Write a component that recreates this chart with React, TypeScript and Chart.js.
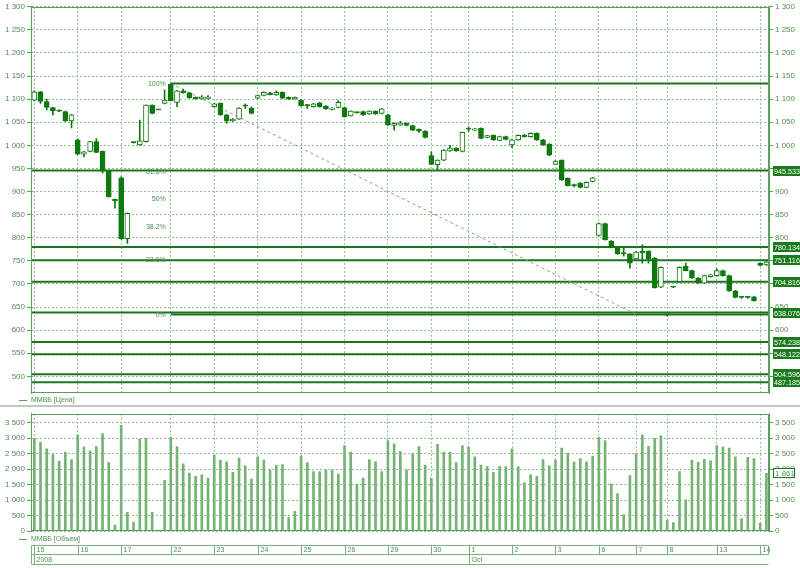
import React, { useEffect, useRef } from 'react';
import { Chart, registerables } from 'chart.js';

Chart.register(...registerables);

// ---------------- data ----------------
const dayLabels = ['15', '16', '17', '22', '23', '24', '25', '26', '29', '30', '1', '2', '3', '6', '7', '8', '13', '14'];
const dayStarts = [0, 7, 14, 22, 29, 36, 43, 50, 57, 64, 70, 77, 84, 91, 97, 102, 110, 117];
const monthLabels = ['2008', 'Oct'];
const monthStarts = [0, 70];

const opens = [
  1098, 1116, 1095, 1082, 1076, 1073, 1053,
  1012, 981, 987, 1008, 987, 945, 883,
  930, 798, 1006, 1001, 1008, 1087, 1077, 1091,
  1132, 1093, 1118, 1114, 1104, 1101, 1101,
  1084, 1091, 1066, 1053, 1057, 1085, 1081,
  1102, 1108, 1114, 1109, 1115, 1104, 1101,
  1098, 1088, 1084, 1092, 1085, 1078, 1082,
  1082, 1064, 1071, 1073, 1068, 1074, 1069,
  1066, 1043, 1044, 1048, 1043, 1035, 1031,
  978, 958, 968, 988, 994, 987,
  1035, 1033, 1037, 1017, 1022, 1011, 1019,
  1001, 1012, 1022, 1019, 1026, 1012, 1003,
  959, 968, 929, 913, 918, 909, 922,
  805, 831, 793, 779, 768, 765,
  754, 771, 771, 756, 693,
  633, 693, 705, 738, 729, 713, 702, 716,
  718, 729, 718, 685, 671, 671, 672,
  745, 741,
];
const highs = [
  1118, 1117, 1100, 1083, 1077, 1074, 1067,
  1014, 987, 1009, 1015, 988, 946, 884,
  932, 854, 1008, 1055, 1088, 1088, 1077, 1120,
  1135, 1119, 1122, 1115, 1105, 1108, 1108,
  1091, 1092, 1067, 1058, 1082, 1090, 1083,
  1109, 1116, 1115, 1118, 1116, 1105, 1105,
  1099, 1089, 1091, 1093, 1086, 1082, 1097,
  1083, 1075, 1072, 1074, 1075, 1075, 1080,
  1067, 1049, 1052, 1049, 1044, 1036, 1032,
  986, 969, 991, 1000, 995, 1029,
  1040, 1037, 1038, 1022, 1023, 1020, 1020,
  1013, 1023, 1024, 1027, 1027, 1013, 1004,
  967, 969, 930, 916, 920, 921, 931,
  832, 832, 794, 780, 778, 766,
  770, 785, 772, 757, 737,
  635, 694, 737, 745, 730, 714, 719, 721,
  733, 730, 719, 686, 673, 673, 673,
  746, 752,
];
const lows = [
  1096, 1091, 1077, 1066, 1073, 1052, 1038,
  980, 975, 986, 984, 940, 888, 864,
  797, 788, 1005, 1000, 1007, 1068, 1077, 1090,
  1096, 1084, 1113, 1102, 1100, 1100, 1100,
  1083, 1065, 1048, 1052, 1056, 1080, 1068,
  1101, 1107, 1109, 1108, 1101, 1099, 1100,
  1085, 1080, 1083, 1083, 1078, 1077, 1081,
  1061, 1063, 1070, 1065, 1067, 1067, 1068,
  1043, 1033, 1043, 1042, 1032, 1028, 1016,
  958, 947, 967, 987, 987, 986,
  1030, 1032, 1014, 1016, 1011, 1010, 1012,
  995, 1011, 1018, 1018, 1011, 1000, 978,
  958, 924, 912, 910, 908, 908, 921,
  804, 795, 778, 764, 760, 734,
  753, 745, 745, 691, 692,
  631, 692, 704, 728, 712, 701, 701, 715,
  717, 717, 684, 670, 669, 669, 663,
  739, 740,
];
const closes = [
  1116, 1095, 1082, 1075, 1074, 1053, 1066,
  981, 986, 1008, 985, 945, 889, 880,
  798, 853, 1007, 1010, 1087, 1069, 1077, 1098,
  1097, 1118, 1114, 1103, 1101, 1105, 1105,
  1090, 1066, 1053, 1057, 1081, 1086, 1069,
  1108, 1115, 1110, 1115, 1102, 1100, 1104,
  1086, 1086, 1090, 1084, 1079, 1081, 1093,
  1062, 1074, 1071, 1066, 1074, 1068, 1079,
  1044, 1048, 1049, 1043, 1033, 1031, 1017,
  959, 968, 990, 994, 988, 1028,
  1036, 1036, 1015, 1021, 1012, 1019, 1013,
  1012, 1022, 1019, 1026, 1012, 1001, 979,
  966, 925, 913, 914, 909, 920, 930,
  831, 796, 779, 765, 765, 745,
  769, 767, 754, 692, 736,
  634, 693, 736, 729, 713, 702, 718, 720,
  729, 718, 685, 671, 672, 672, 664,
  740, 748,
];
const volumes = [
  3000, 2870, 2660, 2470, 2260, 2550, 2310,
  3100, 2710, 2590, 2730, 3150, 2220, 190,
  3420, 600, 290, 2970, 3000, 600, null, 1640,
  3030, 2730, 2170, 1870, 1770, 1820, 1710,
  2450, 2290, 2240, 1900, 2360, 2110, 1680,
  2400, 2290, 1980, 2130, 2150, 430, 640,
  2420, 2210, 1920, 1920, 1980, 1980, 1840,
  2760, 2550, 1520, 1710, 2310, 2240, 1920,
  2920, 2820, 2570, 1980, 2500, 2730, 2130,
  1710, 2800, 2550, 2550, 2210, 2760,
  2710, 2400, 2130, 2080, 1900, 2080, 2080,
  2660, 2080, 1560, 1820, 1770, 2310, 2110,
  2290, 2680, 2520, 2240, 2340, 2240, 2420,
  3030, 2920, 1520, 1210, 530, 1790,
  2500, 3100, 2740, 3000, 3080,
  350, 270, 1920, 1010, 2290, 2220, 2320, 2270,
  2760, 2710, 2680, 2400, 400, 2380, 2340,
  260, 1861,
];

const priceTicks = [500, 550, 600, 650, 700, 750, 800, 850, 900, 950, 1000, 1050, 1100, 1150, 1200, 1250, 1300];
const volumeTicks = [0, 500, 1000, 1500, 2000, 2500, 3000, 3500];
const levelValues = [945.533, 780.134, 751.116, 704.816, 638.076, 574.238, 548.122, 504.596, 487.185];
const levelLabels = ['945.533', '780.134', '751.116', '704.816', '638.076', '574.238', '548.122', '504.596', '487.185'];
const fibRatios = [1, 0.618, 0.5, 0.382, 0.236, 0];
const fibLabels = ['100%', '61.8%', '50%', '38.2%', '23.6%', '0%'];
const fibAnchorX = [22, 97];
const fibAnchorY = [1134, 634];
const lastVolumeLabel = '1 861';
const priceLegend = 'ММВБ [Цена]';
const volumeLegend = 'ММВБ [Объем]';

// ---------------- ranges & styles ----------------
const PRICE_MIN = 464;
const PRICE_MAX = 1300;
const VOL_MIN = 0;
const VOL_MAX = 3790;
const X_MIN = -0.532;
const X_MAX = 118.42;

const FONT = "'Liberation Sans', Arial, sans-serif";
const candleColor = '#0f780f';
const levelColor = '#1c751c';
const gridColor = '#8fc08f';
const axisColor = '#5aa05a';
const textColor = '#4f8f4f';
const boxColor = '#1b7a1b';
const volColor = '#74b374';
const tableColor = '#7ab47a';

const fmt = (v: number) => String(v).replace(/\B(?=(\d{3})+(?!\d))/g, ' ');

const xScale = (showGrid: boolean) => ({
  type: 'linear',
  min: X_MIN,
  max: X_MAX,
  offset: false,
  afterBuildTicks: (a: any) => { a.ticks = dayStarts.map((v) => ({ value: v })); },
  afterFit: (a: any) => { a.height = 0; },
  ticks: { display: false },
  grid: { display: showGrid, color: gridColor, drawTicks: false, offset: false, lineWidth: 1 },
  border: { display: false, dash: [2, 2] },
});

const yScale = (pos: 'left' | 'right', min: number, max: number, ticks: number[]) => ({
  type: 'linear',
  position: pos,
  min,
  max,
  beginAtZero: false,
  afterBuildTicks: (a: any) => { a.ticks = ticks.map((v) => ({ value: v })); },
  afterFit: (a: any) => { a.width = 31; },
  ticks: {
    autoSkip: false,
    color: textColor,
    font: { family: FONT, size: 8 },
    padding: 2,
    callback: (v: any) => fmt(Number(v)),
  },
  grid: {
    color: gridColor,
    tickColor: axisColor,
    tickLength: 4,
    tickBorderDash: [],
    drawOnChartArea: pos === 'left',
  },
  border: { display: true, color: axisColor, width: 1, dash: [2, 2] },
});

const frame = (chart: any) => {
  const { ctx, chartArea } = chart;
  ctx.save();
  ctx.strokeStyle = axisColor;
  ctx.lineWidth = 1;
  ctx.setLineDash([]);
  ctx.strokeRect(Math.round(chartArea.left) + 0.5, Math.round(chartArea.top) + 0.5,
    Math.round(chartArea.right - chartArea.left) - 1, Math.round(chartArea.bottom - chartArea.top) - 1);
  ctx.restore();
};

const legendText = (ctx: any, text: string, y: number) => {
  ctx.save();
  ctx.strokeStyle = axisColor;
  ctx.lineWidth = 1;
  ctx.beginPath();
  ctx.moveTo(19, y + 0.5);
  ctx.lineTo(27, y + 0.5);
  ctx.stroke();
  ctx.fillStyle = textColor;
  ctx.font = `7px ${FONT}`;
  ctx.textAlign = 'left';
  ctx.textBaseline = 'middle';
  ctx.fillText(text, 31, y + 0.5);
  ctx.restore();
};

const priceOverlay = {
  id: 'priceOverlay',
  afterDraw(chart: any) {
    const { ctx, chartArea, scales } = chart;
    const y = scales.y;
    const x = scales.x;
    frame(chart);
    ctx.save();
    // fibonacci labels
    ctx.font = `7px ${FONT}`;
    ctx.fillStyle = textColor;
    ctx.textAlign = 'right';
    ctx.textBaseline = 'middle';
    const fx = x.getPixelForValue(fibAnchorX[0]) - 5;
    fibRatios.forEach((r, i) => {
      const v = fibAnchorY[1] + r * (fibAnchorY[0] - fibAnchorY[1]);
      ctx.fillText(fibLabels[i], fx, y.getPixelForValue(v) + 0.5);
    });
    // level value boxes on the right axis
    ctx.textAlign = 'left';
    ctx.font = `8px ${FONT}`;
    const bx = chartArea.right + 4;
    levelValues.forEach((v, i) => {
      const py = Math.round(y.getPixelForValue(v));
      ctx.fillStyle = boxColor;
      ctx.fillRect(bx, py - 5, 800 - bx, 10);
      ctx.fillStyle = '#ffffff';
      ctx.fillText(levelLabels[i], bx + 1, py + 0.5, 800 - bx - 1);
    });
    ctx.restore();
    legendText(ctx, priceLegend, 400);
  },
};

const B_TOP = 407;

const volumeOverlay = {
  id: 'volumeOverlay',
  afterDraw(chart: any) {
    const { ctx, chartArea, scales } = chart;
    const x = scales.x;
    const y = scales.y;
    frame(chart);
    ctx.save();
    // last volume box
    const py = Math.round(y.getPixelForValue(volumes[volumes.length - 1] as number));
    const bx = chartArea.right + 4;
    ctx.fillStyle = '#ffffff';
    ctx.fillRect(bx, py - 5, 22, 10);
    ctx.strokeStyle = levelColor;
    ctx.lineWidth = 1;
    ctx.strokeRect(bx + 0.5, py - 4.5, 21, 9);
    ctx.fillStyle = textColor;
    ctx.font = `8px ${FONT}`;
    ctx.textAlign = 'left';
    ctx.textBaseline = 'middle';
    ctx.fillText(lastVolumeLabel, bx + 2, py + 0.5);

    // date table
    const L = Math.round(chartArea.left) + 0.5;
    const R = Math.round(chartArea.right) - 0.5;
    const r1 = 545 - B_TOP + 0.5;
    const r2 = 554 - B_TOP + 0.5;
    const r3 = 564 - B_TOP + 0.5;
    ctx.strokeStyle = tableColor;
    ctx.beginPath();
    ctx.moveTo(L, r1); ctx.lineTo(R, r1);
    ctx.moveTo(L, r2); ctx.lineTo(R, r2);
    ctx.moveTo(L, r3); ctx.lineTo(R, r3);
    ctx.moveTo(L, r1); ctx.lineTo(L, r3);
    ctx.moveTo(R, r1); ctx.lineTo(R, r2);
    ctx.stroke();
    ctx.font = `7px ${FONT}`;
    ctx.fillStyle = textColor;
    dayStarts.forEach((k, i) => {
      const px = Math.round(x.getPixelForValue(k)) + 0.5;
      ctx.beginPath();
      ctx.moveTo(px, r1); ctx.lineTo(px, r2);
      ctx.stroke();
      ctx.fillText(dayLabels[i], px + 2, (r1 + r2) / 2 + 0.5);
    });
    monthStarts.forEach((k, i) => {
      const px = Math.round(x.getPixelForValue(k)) + 0.5;
      ctx.beginPath();
      ctx.moveTo(px, r2); ctx.lineTo(px, r3);
      ctx.stroke();
      ctx.fillText(monthLabels[i], px + 2, (r2 + r3) / 2 + 0.5);
    });
    ctx.restore();
    legendText(ctx, volumeLegend, 539 - B_TOP);
  },
};

function priceConfig(): any {
  const isUp = (i: number) => closes[i] - opens[i] > 1.5;
  const levelSets = levelValues.map((v) => ({
    type: 'line',
    data: [{ x: X_MIN, y: v }, { x: X_MAX, y: v }],
    borderColor: levelColor,
    borderWidth: 2,
    pointRadius: 0,
    order: 3,
  }));
  return {
    type: 'bar',
    data: {
      datasets: [
        {
          type: 'bar',
          data: opens.map((o, i) => ({ x: i, y: [o, closes[i]] })),
          backgroundColor: opens.map((_, i) => (isUp(i) ? '#ffffff' : candleColor)),
          borderColor: candleColor,
          borderWidth: 1,
          borderSkipped: false,
          barThickness: 5,
          minBarLength: 1,
          grouped: false,
          order: 0,
        },
        {
          type: 'bar',
          data: lows.map((l, i) => ({ x: i, y: [l, highs[i]] })),
          backgroundColor: candleColor,
          borderWidth: 0,
          barThickness: 1,
          grouped: false,
          order: 1,
        },
        ...levelSets,
        {
          type: 'line',
          data: [{ x: fibAnchorX[0], y: fibAnchorY[0] }, { x: X_MAX, y: fibAnchorY[0] }],
          borderColor: levelColor,
          borderWidth: 2,
          pointRadius: 0,
          order: 3,
        },
        {
          type: 'line',
          data: [{ x: fibAnchorX[0], y: fibAnchorY[1] }, { x: X_MAX, y: fibAnchorY[1] }],
          borderColor: levelColor,
          borderWidth: 2,
          pointRadius: 0,
          order: 3,
        },
        {
          type: 'line',
          data: [{ x: fibAnchorX[0], y: fibAnchorY[0] }, { x: fibAnchorX[1], y: fibAnchorY[1] }],
          borderColor: '#8c9c8c',
          borderWidth: 1,
          borderDash: [3, 3],
          pointRadius: 0,
          order: 2,
        },
      ],
    },
    options: {
      responsive: false,
      maintainAspectRatio: false,
      animation: false,
      events: [],
      layout: { padding: { top: 5, bottom: 12, left: 0, right: 0 } },
      plugins: { legend: { display: false }, tooltip: { enabled: false } },
      scales: {
        x: xScale(true),
        y: yScale('left', PRICE_MIN, PRICE_MAX, priceTicks),
        yR: yScale('right', PRICE_MIN, PRICE_MAX, priceTicks),
      },
    },
    plugins: [priceOverlay],
  };
}

function volumeConfig(): any {
  return {
    type: 'bar',
    data: {
      datasets: [
        {
          type: 'bar',
          data: volumes.map((v, i) => ({ x: i, y: v })),
          backgroundColor: volColor,
          borderWidth: 0,
          barThickness: 2,
          grouped: false,
        },
      ],
    },
    options: {
      responsive: false,
      maintainAspectRatio: false,
      animation: false,
      events: [],
      layout: { padding: { top: 5, bottom: 37, left: 0, right: 0 } },
      plugins: { legend: { display: false }, tooltip: { enabled: false } },
      scales: {
        x: xScale(true),
        y: yScale('left', VOL_MIN, VOL_MAX, volumeTicks),
        yR: yScale('right', VOL_MIN, VOL_MAX, volumeTicks),
      },
    },
    plugins: [volumeOverlay],
  };
}

export default function App() {
  const priceRef = useRef<HTMLCanvasElement>(null);
  const volRef = useRef<HTMLCanvasElement>(null);
  useEffect(() => {
    const c1 = new Chart(priceRef.current as HTMLCanvasElement, priceConfig());
    const c2 = new Chart(volRef.current as HTMLCanvasElement, volumeConfig());
    return () => {
      c1.destroy();
      c2.destroy();
    };
  }, []);
  return (
    <div style={{ position: 'fixed', left: 0, top: 0, width: 800, height: 568, background: '#ffffff' }}>
      <canvas ref={priceRef} width={800} height={405} style={{ position: 'absolute', left: 0, top: 0, width: 800, height: 405 }} />
      <div style={{ position: 'absolute', left: 0, top: 405, width: 800, height: 2, background: '#c4c4c4' }} />
      <canvas ref={volRef} width={800} height={161} style={{ position: 'absolute', left: 0, top: B_TOP, width: 800, height: 161 }} />
    </div>
  );
}
